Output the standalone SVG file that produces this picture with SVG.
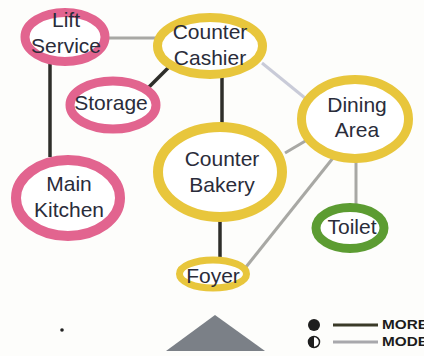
<svg xmlns="http://www.w3.org/2000/svg" width="424" height="356" viewBox="0 0 424 356">
  <style>
    .ring { fill: #ffffff; }
    .pink { stroke: #e2648f; }
    .gold { stroke: #e8c63c; }
    .green { stroke: #5c9c32; }
    .lbl { font-family: "Liberation Sans", Arial, sans-serif; font-size: 21px; fill: #2a2c3a; text-anchor: middle; }
    .strong { stroke: #2e2e2a; stroke-width: 3.5; fill: none; }
    .mod { stroke: #a8a8a4; stroke-width: 3; fill: none; }
    .weak { stroke: #c9cbd8; stroke-width: 3; fill: none; }
    .leg { font-family: "Liberation Sans", Arial, sans-serif; font-size: 12px; font-weight: bold; fill: #1c1c1c; }
  </style>
  <rect width="424" height="356" fill="#fdfdfb"/>

  <!-- connectors -->
  <g id="connectors">
    <line class="mod" x1="108" y1="38" x2="156" y2="38"/>
    <line class="strong" x1="50" y1="64" x2="50" y2="157"/>
    <line class="strong" x1="148" y1="88" x2="170" y2="66"/>
    <line class="strong" x1="222" y1="76" x2="222" y2="124"/>
    <line class="weak" x1="262" y1="63" x2="305" y2="98"/>
    <line class="mod" x1="285" y1="153" x2="307" y2="140"/>
    <line class="mod" x1="246" y1="267" x2="333" y2="158"/>
    <line class="mod" x1="356" y1="160" x2="356" y2="205"/>
    <line class="strong" x1="220" y1="220" x2="220" y2="259"/>
  </g>

  <g id="lift-service">
    <ellipse class="ring pink" cx="65" cy="37" rx="40" ry="24.5" stroke-width="9"/>
    <text class="lbl" x="66" y="27">Lift</text>
    <text class="lbl" x="66" y="53">Service</text>
  </g>

  <g id="counter-cashier">
    <ellipse class="ring gold" cx="210" cy="46" rx="52.5" ry="28.5" stroke-width="9"/>
    <text class="lbl" x="210" y="39">Counter</text>
    <text class="lbl" x="210" y="65">Cashier</text>
  </g>

  <g id="storage">
    <ellipse class="ring pink" cx="113" cy="105" rx="43" ry="24" stroke-width="9"/>
    <text class="lbl" x="111" y="110">Storage</text>
  </g>

  <g id="dining-area">
    <ellipse class="ring gold" cx="355" cy="119" rx="53.5" ry="39.5" stroke-width="9"/>
    <text class="lbl" x="357" y="112">Dining</text>
    <text class="lbl" x="357" y="137">Area</text>
  </g>

  <g id="counter-bakery">
    <ellipse class="ring gold" cx="220" cy="172" rx="62" ry="45" stroke-width="10"/>
    <text class="lbl" x="222" y="166">Counter</text>
    <text class="lbl" x="222" y="192">Bakery</text>
  </g>

  <g id="main-kitchen">
    <ellipse class="ring pink" cx="68" cy="198" rx="52" ry="38" stroke-width="10"/>
    <text class="lbl" x="69" y="191">Main</text>
    <text class="lbl" x="69" y="217">Kitchen</text>
  </g>

  <g id="toilet">
    <ellipse class="ring green" cx="350" cy="228" rx="34" ry="20.5" stroke-width="9"/>
    <text class="lbl" x="352" y="234">Toilet</text>
  </g>

  <g id="foyer">
    <ellipse class="ring gold" cx="213" cy="274" rx="33.5" ry="14" stroke-width="7"/>
    <text class="lbl" x="213" y="283">Foyer</text>
  </g>

  <!-- stray mark and arrow -->
  <circle cx="62" cy="330" r="1.8" fill="#222"/>
  <polygon points="215,315 166,351 265,351" fill="#7b8087"/>

  <!-- legend -->
  <g id="legend">
    <circle cx="314" cy="325" r="6" fill="#1e1e1e"/>
    <circle cx="314" cy="342" r="5.5" fill="#ffffff" stroke="#1e1e1e" stroke-width="1.5"/>
    <path d="M314,336.5 A5.5,5.5 0 0 0 314,347.5 Z" fill="#1e1e1e"/>
    <line x1="333" y1="325" x2="378" y2="325" stroke="#3a3a28" stroke-width="3"/>
    <line x1="333" y1="342" x2="378" y2="342" stroke="#a8a8ac" stroke-width="3"/>
    <text class="leg" x="382" y="329" textLength="46" lengthAdjust="spacingAndGlyphs">MORE</text>
    <text class="leg" x="382" y="346" textLength="46" lengthAdjust="spacingAndGlyphs">MODE</text>
  </g>
</svg>
